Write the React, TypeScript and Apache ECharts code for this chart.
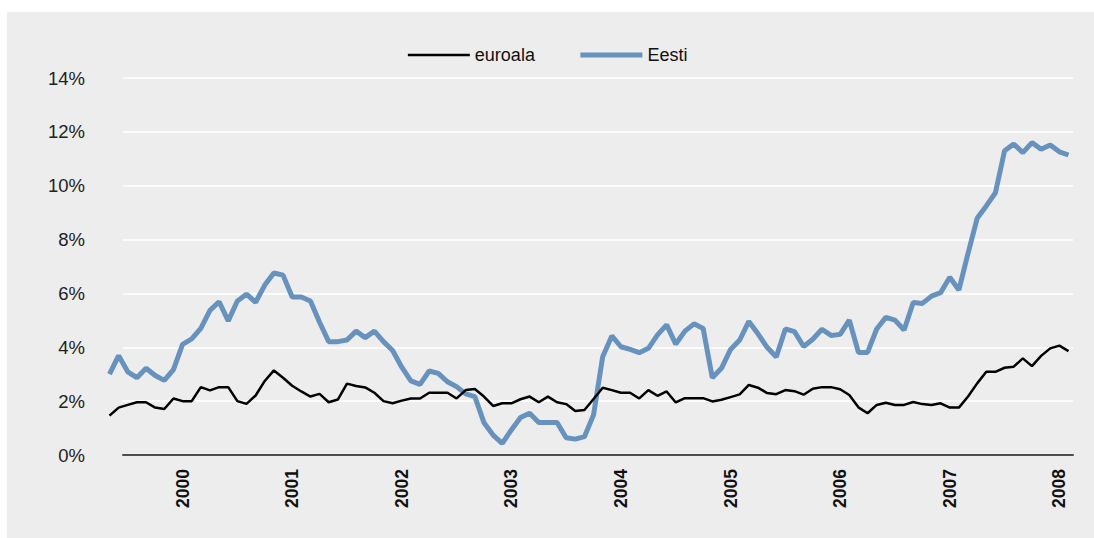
import React, { useEffect, useRef } from "react";
import * as echarts from "echarts";

// Monthly series, index 0 = first month shown (≈ 8 months before the "2000" label)
const euroala: number[] = [
  1.46, 1.76, 1.86, 1.96, 1.96, 1.76, 1.71, 2.1, 2.0, 2.0,
  2.52, 2.4, 2.52, 2.52, 2.0, 1.9, 2.21, 2.75, 3.14, 2.87,
  2.57, 2.36, 2.17, 2.27, 1.96, 2.06, 2.65, 2.56, 2.51, 2.31,
  2.0, 1.92, 2.02, 2.1, 2.1, 2.31, 2.31, 2.31, 2.1, 2.41,
  2.45, 2.17, 1.82, 1.92, 1.92, 2.07, 2.17, 1.96, 2.17, 1.96,
  1.89, 1.63, 1.67, 2.08, 2.5, 2.41, 2.31, 2.31, 2.1, 2.41,
  2.2, 2.36, 1.95, 2.11, 2.11, 2.11, 1.99, 2.05, 2.15, 2.25,
  2.6, 2.5, 2.3, 2.26, 2.41, 2.37, 2.24, 2.46, 2.52, 2.52,
  2.44, 2.23, 1.77, 1.55, 1.86, 1.94, 1.86, 1.86, 1.97, 1.89,
  1.86, 1.92, 1.76, 1.76, 2.17, 2.66, 3.09, 3.09, 3.24, 3.28,
  3.59, 3.3, 3.68, 3.96, 4.06, 3.86,
];

const eesti: number[] = [
  3.0, 3.69, 3.09, 2.87, 3.22, 2.95, 2.77, 3.17, 4.11, 4.31,
  4.7, 5.37, 5.69, 4.98, 5.72, 5.97, 5.67, 6.31, 6.76, 6.68,
  5.87, 5.87, 5.72, 4.93, 4.21, 4.21, 4.27, 4.6, 4.36, 4.6,
  4.21, 3.88, 3.26, 2.75, 2.62, 3.12, 3.03, 2.72, 2.54, 2.27,
  2.17, 1.2, 0.74, 0.43, 0.93, 1.39, 1.55, 1.21, 1.21, 1.21,
  0.64, 0.59, 0.68, 1.49, 3.65, 4.42, 4.02, 3.92, 3.8, 3.96,
  4.46, 4.83, 4.12, 4.6, 4.87, 4.7, 2.87, 3.22, 3.92, 4.27,
  4.96, 4.5, 4.0, 3.64, 4.68, 4.58, 4.03, 4.3, 4.67, 4.44,
  4.48, 5.01, 3.81, 3.81, 4.68, 5.11, 5.01, 4.64, 5.66, 5.63,
  5.9, 6.03, 6.6, 6.13, 7.49, 8.79, 9.25, 9.74, 11.3, 11.55,
  11.23, 11.6, 11.35, 11.51, 11.26, 11.14,
];

const yearLabels: string[] = ["2000", "2001", "2002", "2003", "2004", "2005", "2006", "2007", "2008"];
const yearLabelIdx: number[] = [8, 20, 32, 44, 56, 68, 80, 92, 104];

const seriesNames = ["euroala", "Eesti"];
const seriesColors = ["#000000", "#6792bd"];
const seriesWidths = [2.5, 5];

export default function App() {
  const ref = useRef<HTMLDivElement>(null);

  useEffect(() => {
    if (!ref.current) return;
    const chart = echarts.init(ref.current, undefined, { renderer: "svg" });
    const font = "'Liberation Sans', Arial, Helvetica, sans-serif";
    const top = 78;
    const bottom = 83;
    chart.setOption({
      animation: false,
      backgroundColor: "#ffffff",
      textStyle: { fontFamily: font },
      graphic: {
        elements: [
          {
            type: "rect",
            z: -100,
            silent: true,
            shape: { x: 7, y: 12, width: 1087, height: 526 },
            style: { fill: "#ecedec" },
          },
        ],
      },
      legend: {
        top: 41,
        left: "center",
        itemWidth: 62,
        itemHeight: 14,
        itemGap: 43,
        itemStyle: { opacity: 0 },
        textStyle: { fontSize: 18, color: "#111", fontFamily: font },
        data: seriesNames.map((n, k) => ({
          name: n,
          lineStyle: { width: seriesWidths[k], color: seriesColors[k] },
        })),
      },
      grid: [
        // axes grid (gridlines, labels, zero line)
        { left: 123, right: 21, top, bottom, containLabel: false },
        // data grid: the lines start a little left of the gridlines, as in the original
        { left: 109.5, right: 25.5, top, bottom, containLabel: false },
      ],
      xAxis: [
        {
          gridIndex: 0,
          type: "value",
          min: 1.48,
          max: 105.5,
          splitLine: { show: false },
          axisTick: { show: false },
          axisLine: { show: true, lineStyle: { color: "#4d4d4d", width: 2 } },
          axisLabel: {
            customValues: yearLabelIdx,
            rotate: 90,
            margin: 14,
            fontSize: 17.5,
            fontWeight: "bold",
            color: "#111",
            fontFamily: font,
            formatter: (val: number) => {
              const k = yearLabelIdx.indexOf(Math.round(val));
              return k >= 0 ? yearLabels[k] : "";
            },
          },
        },
        {
          gridIndex: 1,
          type: "value",
          min: 0,
          max: 105,
          show: false,
          splitLine: { show: false },
        },
      ],
      yAxis: [
        {
          gridIndex: 0,
          type: "value",
          min: 0,
          max: 14,
          interval: 2,
          axisLine: { show: false },
          axisTick: { show: false },
          splitLine: { show: true, lineStyle: { color: "#ffffff", width: 1.5 } },
          axisLabel: {
            margin: 38,
            fontSize: 18.5,
            color: "#222",
            fontFamily: font,
            formatter: (v: number) => `${v}%`,
          },
        },
        {
          gridIndex: 1,
          type: "value",
          min: 0,
          max: 14,
          interval: 2,
          show: false,
          splitLine: { show: false },
        },
      ],
      series: [
        {
          name: seriesNames[0],
          type: "line",
          xAxisIndex: 1,
          yAxisIndex: 1,
          symbol: "none",
          z: 3,
          lineStyle: { color: seriesColors[0], width: seriesWidths[0] },
          itemStyle: { color: seriesColors[0] },
          data: euroala.map((v, i) => [i, v]),
        },
        {
          name: seriesNames[1],
          type: "line",
          xAxisIndex: 1,
          yAxisIndex: 1,
          symbol: "none",
          z: 2,
          lineStyle: { color: seriesColors[1], width: seriesWidths[1] },
          itemStyle: { color: seriesColors[1] },
          data: eesti.map((v, i) => [i, v]),
        },
      ],
    });
    return () => chart.dispose();
  }, []);

  return (
    <div
      ref={ref}
      style={{ position: "fixed", left: 0, top: 0, width: 1094, height: 538 }}
    />
  );
}
